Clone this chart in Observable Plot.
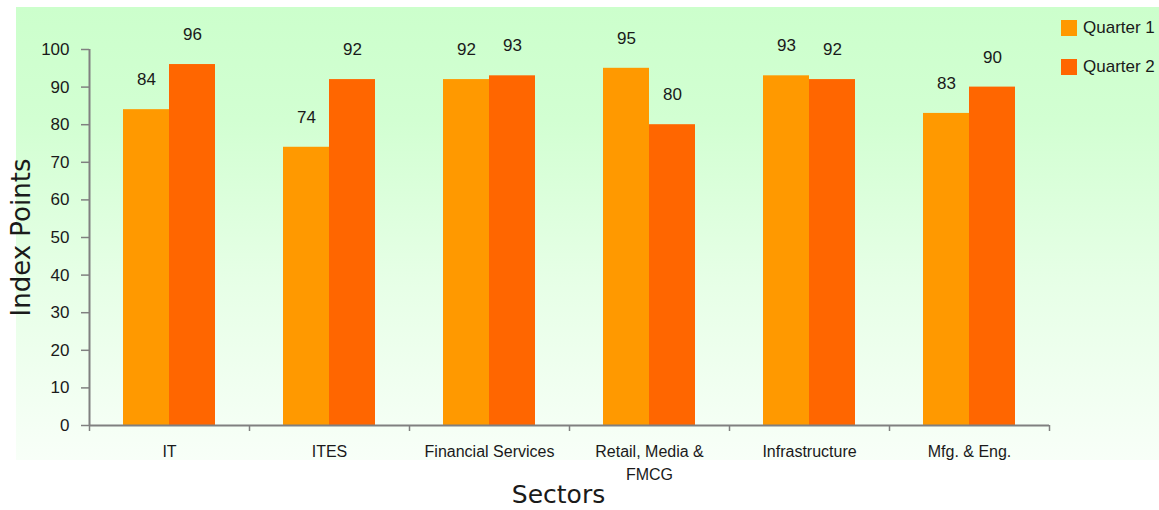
<!DOCTYPE html>
<html>
<head>
<meta charset="utf-8">
<script src="https://cdn.jsdelivr.net/npm/d3@7"></script>
<script src="https://cdn.jsdelivr.net/npm/@observablehq/plot@0.6"></script>
<style>
html, body { margin: 0; padding: 0; background: #ffffff; }
#wrap { position: relative; width: 1159px; height: 510px; overflow: hidden; font-family: "Liberation Sans", Arial, sans-serif; color: #1a1a1a; }
#panel { position: absolute; left: 16px; top: 7px; width: 1143px; height: 453px;
  background: linear-gradient(to bottom, #ccffcc 0%, #d2ffd2 25%, #e6ffe6 60%, #f8fff8 100%); }
#chart { position: absolute; left: 0; top: 0; }
#legend { position: absolute; left: 1061px; top: 20px; }
.item { display: flex; align-items: center; height: 16px; margin-bottom: 23px; font-size: 17px; white-space: nowrap; }
.sw { width: 16px; height: 16px; margin-right: 6px; flex: none; }
</style>
</head>
<body>
<div id="wrap">
  <div id="panel"></div>
  <div id="chart"></div>
  <div id="legend"></div>
</div>
<script>
const sectors = ["IT", "ITES", "Financial Services", "Retail, Media & FMCG", "Infrastructure", "Mfg. & Eng."];
const sectorLabels = ["IT", "ITES", "Financial Services", "Retail, Media &\nFMCG", "Infrastructure", "Mfg. & Eng."];
const quarter1 = [84, 74, 92, 95, 93, 83];
const quarter2 = [96, 92, 93, 80, 92, 90];
const seriesNames = ["Quarter 1", "Quarter 2"];
const yTicks = [0, 10, 20, 30, 40, 50, 60, 70, 80, 90, 100];
const yTitle = "Index Points";
const xTitle = "Sectors";

const seriesColors = ["#FF9900", "#FF6600"];
const axisGray = "#808080";

const rows = sectors.map((s, i) => ({sector: s, q1: quarter1[i], q2: quarter2[i]}));

const W = 1159, H = 510, mL = 89, mR = 110, mT = 49, mB = 85;
const step = (W - mL - mR) / sectors.length;
const half = step / 2;
const padInner = 0.425;
const barW = step * (1 - padInner) / 2;

const chart = Plot.plot({
  width: W, height: H,
  marginLeft: mL, marginRight: mR, marginTop: mT, marginBottom: mB,
  style: {background: "transparent", fontFamily: "'Liberation Sans', Arial, sans-serif", color: "#1a1a1a", overflow: "visible"},
  x: {type: "band", domain: sectors, paddingInner: padInner, paddingOuter: padInner / 2, round: false, label: null},
  y: {domain: [0, 100], label: null},
  marks: [
    Plot.barY(rows, {x: "sector", y: "q1", fill: seriesColors[0], insetRight: barW}),
    Plot.barY(rows, {x: "sector", y: "q2", fill: seriesColors[1], insetLeft: barW}),
    Plot.text(rows, {x: "sector", y: "q1", text: d => String(d.q1), dx: -barW / 2, dy: -30, fontSize: 17, fill: "#1a1a1a"}),
    Plot.text(rows, {x: "sector", y: "q2", text: d => String(d.q2), dx: barW / 2, dy: -30, fontSize: 17, fill: "#1a1a1a"}),
    Plot.ruleY([0], {stroke: axisGray, strokeWidth: 2}),
    Plot.ruleX([sectors[0]], {x: d => d, dx: -half, stroke: axisGray, strokeWidth: 2}),
    Plot.ruleX(sectors, {x: d => d, y1: 0, y2: 0, dx: -half, insetBottom: -6, stroke: axisGray, strokeWidth: 1.5}),
    Plot.ruleX([sectors[sectors.length - 1]], {x: d => d, y1: 0, y2: 0, dx: half, insetBottom: -6, stroke: axisGray, strokeWidth: 1.5}),
    Plot.axisY({ticks: yTicks, tickSize: 8, tickPadding: 12, fontSize: 17, stroke: axisGray, strokeWidth: 1.5, fill: "#1a1a1a", label: null}),
    Plot.axisX({tickSize: 0, tickPadding: 16, fontSize: 16, lineHeight: 1.4, fill: "#1a1a1a",
      tickFormat: s => sectorLabels[sectors.indexOf(s)], label: null}),
    Plot.text([yTitle], {text: d => d, frameAnchor: "left", textAnchor: "middle", lineAnchor: "middle", dx: -68, rotate: -90, fontSize: 26, fontFamily: "DejaVu Sans", fill: "#1a1a1a"}),
    Plot.text([xTitle], {text: d => d, frameAnchor: "bottom", textAnchor: "middle", lineAnchor: "middle", dx: -11, dy: 69, fontSize: 25, fontFamily: "DejaVu Sans", fill: "#1a1a1a"})
  ]
});
document.getElementById("chart").appendChild(chart);

const legend = document.getElementById("legend");
seriesNames.forEach((name, i) => {
  const item = document.createElement("div");
  item.className = "item";
  const sw = document.createElement("span");
  sw.className = "sw";
  sw.style.background = seriesColors[i];
  const label = document.createElement("span");
  label.textContent = name;
  item.appendChild(sw);
  item.appendChild(label);
  legend.appendChild(item);
});
</script>
</body>
</html>
